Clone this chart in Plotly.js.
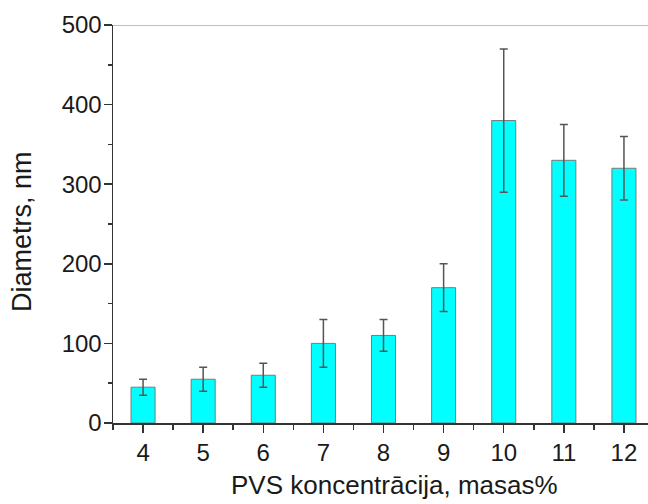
<!DOCTYPE html>
<html>
<head>
<meta charset="utf-8">
<script src="https://cdn.plot.ly/plotly-3.0.1.min.js"></script>
<style>html,body{margin:0;padding:0;background:#fff;}#chart{width:648px;height:504px;}</style>
</head>
<body>
<div id="chart"></div>
<script>
// Data
const concentrations = [4, 5, 6, 7, 8, 9, 10, 11, 12];
const diameters = [45, 55, 60, 100, 110, 170, 380, 330, 320];
const errors = [10, 15, 15, 30, 20, 30, 90, 45, 40];
const xTitle = 'PVS koncentrācija, masas%';
const yTitle = 'Diametrs, nm';

const font = 'Arial, "Liberation Sans", sans-serif';

const trace = {
  type: 'bar',
  x: concentrations,
  y: diameters,
  width: 0.4,
  marker: {color: '#00FFFF', line: {color: '#7a7a7a', width: 1}},
  error_y: {type: 'data', array: errors, visible: true, color: '#555555', thickness: 1.5, width: 4}
};

const layout = {
  width: 648, height: 504,
  margin: {l: 113, r: 0, t: 25, b: 81},
  paper_bgcolor: '#ffffff', plot_bgcolor: '#ffffff',
  showlegend: false,
  font: {family: font, color: '#1a1a1a', size: 24},
  xaxis: {
    range: [3.5, 12.4], tickmode: 'linear', tick0: 4, dtick: 1,
    ticks: 'outside', ticklen: 8, tickwidth: 1.5, tickcolor: '#333',
    showline: true, linecolor: '#333', linewidth: 1.5,
    showgrid: false, zeroline: false,
    tickfont: {family: font, size: 24, color: '#1a1a1a'},
    minor: {dtick: 0.5, tick0: 4, ticks: 'outside', ticklen: 5, tickwidth: 1.5, tickcolor: '#333', showgrid: false}
  },
  yaxis: {
    range: [0, 500], tickmode: 'linear', tick0: 0, dtick: 100,
    ticks: 'outside', ticklen: 8, tickwidth: 1.5, tickcolor: '#333',
    showline: true, linecolor: '#333', linewidth: 1.5,
    showgrid: false, zeroline: false, ticklabelstandoff: -3,
    tickfont: {family: font, size: 24, color: '#1a1a1a'},
    minor: {dtick: 50, tick0: 0, ticks: 'outside', ticklen: 4, tickwidth: 1.5, tickcolor: '#333', showgrid: false}
  },
  shapes: [{type: 'line', xref: 'paper', yref: 'y', x0: 0, x1: 1, y0: 500, y1: 500, line: {color: '#aaaaaa', width: 1.5}}],
  annotations: [
    {text: xTitle, xref: 'paper', yref: 'paper', x: 0.527, y: -0.199, xanchor: 'center', yanchor: 'bottom', showarrow: false, font: {family: font, size: 26, color: '#1a1a1a'}},
    {text: yTitle, xref: 'paper', yref: 'paper', x: -0.17, y: 0.48, xanchor: 'center', yanchor: 'middle', textangle: -90, showarrow: false, font: {family: font, size: 27, color: '#1a1a1a'}}
  ]
};

Plotly.newPlot('chart', [trace], layout, {displayModeBar: false, staticPlot: true});
</script>
</body>
</html>
